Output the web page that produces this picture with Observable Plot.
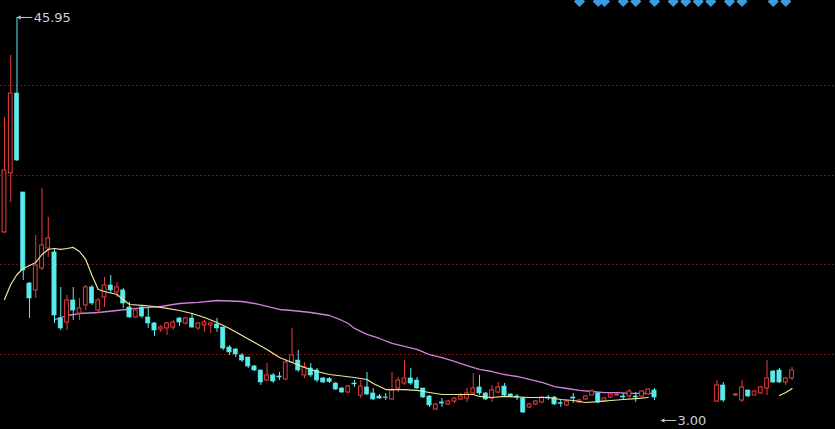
<!DOCTYPE html>
<html>
<head>
<meta charset="utf-8">
<script src="https://cdn.jsdelivr.net/npm/d3@7"></script>
<script src="https://cdn.jsdelivr.net/npm/@observablehq/plot@0.6"></script>
<style>
  html, body { margin: 0; padding: 0; background: #000; overflow: hidden; }
  #chart svg { display: block; }
</style>
</head>
<body>
<div id="chart"></div>
<script>
// ---- Candle positions (trading-day index) ----
const candleIdx = d3.range(105).concat([114, 115], d3.range(117, 127));

// ---- OHLC values ----
const open = [23.04,29.33,37.85,27.30,17.60,16.86,19.20,21.33,20.91,13.87,13.44,15.79,14.40,15.26,17.18,14.72,16.11,17.39,16.64,16.86,
15.04,13.98,15.04,13.98,13.34,12.70,12.81,12.91,13.87,13.34,13.87,12.81,13.13,13.13,13.23,12.91,10.78,10.57,9.93,9.71,
8.76,8.33,7.26,7.80,7.69,7.37,9.18,9.39,7.80,8.54,8.33,7.48,7.42,6.94,6.41,5.98,6.94,5.66,6.52,5.88,
5.56,5.45,5.24,6.41,6.94,7.48,7.26,6.41,5.56,4.17,4.92,4.71,5.02,5.24,5.34,5.88,6.52,5.88,5.34,5.98,
6.62,5.77,5.56,5.34,4.39,4.71,4.92,5.45,5.45,4.84,4.60,5.45,4.92,5.24,5.66,5.88,5.02,5.45,5.66,5.56,
5.56,5.56,5.56,5.77,6.20,
5.02,6.73,
5.66,5.13,6.20,5.66,5.88,6.41,8.22,8.33,7.05,7.48];
const high = [35.29,41.90,45.95,27.30,17.71,22.72,27.73,24.64,21.30,17.18,16.32,17.18,16.00,17.39,17.39,16.00,18.24,18.45,17.71,17.07,
15.58,14.94,15.26,15.04,13.44,13.13,13.44,13.66,13.98,13.98,14.40,13.44,13.66,13.44,13.87,12.91,10.99,10.67,10.14,9.71,
8.86,8.33,9.08,8.01,8.12,9.39,12.81,10.46,9.18,9.08,8.54,7.58,7.58,7.05,6.52,6.73,7.26,7.26,8.12,6.41,
5.77,5.88,8.12,7.58,9.39,8.54,7.58,6.41,5.66,4.81,5.34,5.13,5.45,5.88,6.41,8.01,7.80,5.98,6.73,7.05,
6.94,5.88,5.77,5.45,4.81,5.13,5.56,5.66,5.56,5.24,5.13,5.88,5.24,5.66,6.30,5.98,5.45,5.88,5.88,5.88,
6.30,5.98,6.20,6.41,6.41,
7.26,7.05,
5.88,7.26,6.20,6.20,6.62,9.39,8.33,8.54,7.58,8.65];
const low = [22.90,26.23,30.60,17.92,13.87,16.00,18.99,20.37,13.34,12.59,12.59,13.66,13.66,14.72,15.26,14.40,15.04,16.54,16.11,14.94,
13.87,13.87,13.87,12.81,11.95,12.38,12.06,12.59,13.02,13.13,12.81,12.59,12.38,12.27,12.38,10.46,9.93,9.71,9.18,8.54,
8.22,6.73,7.16,6.94,7.26,7.26,9.08,8.12,7.48,7.58,7.05,6.94,6.94,6.20,5.88,5.88,6.52,5.34,5.66,5.13,
5.24,5.13,5.13,5.98,6.73,6.73,6.30,5.34,4.39,4.07,4.39,4.60,4.81,5.13,4.92,5.66,5.66,5.13,4.92,5.88,
5.45,5.45,5.13,3.75,4.28,4.60,4.81,5.13,4.60,4.39,4.49,4.81,4.81,5.13,5.66,4.81,4.92,5.34,5.56,5.13,
5.34,4.92,5.45,5.66,5.13,
4.92,4.92,
5.56,4.92,5.45,5.66,5.77,5.66,6.94,6.94,6.73,7.26];
const close = [29.65,37.85,30.71,18.99,16.00,19.52,21.65,22.40,14.19,12.81,15.79,14.72,14.94,17.18,15.47,15.79,17.39,16.86,17.18,15.47,
13.98,14.72,14.08,13.34,12.59,12.91,13.34,13.44,13.44,13.87,12.91,13.34,13.44,13.34,12.81,10.67,10.25,10.04,9.39,8.76,
8.33,7.05,7.80,7.16,7.58,9.18,9.93,8.33,8.65,7.80,7.26,7.05,7.10,6.30,5.98,6.62,6.84,6.62,5.77,5.24,
5.34,5.40,6.20,7.26,7.48,6.94,6.41,5.45,4.60,4.71,4.81,5.02,5.34,5.56,5.88,6.41,5.88,5.24,6.20,6.52,
5.66,5.56,5.45,3.85,4.71,5.02,5.45,5.34,4.71,4.78,5.02,5.34,5.13,5.56,6.09,4.92,5.34,5.77,5.77,5.45,
6.09,5.45,6.09,6.30,5.45,
6.73,5.13,
5.77,6.52,5.56,6.09,6.52,7.48,7.05,7.05,7.48,8.33];

// ---- Short moving average (yellow) ----
const maFastIdx = [0,1,2,3,5,6,7,8,9,10,11,12,13,14,15,16,18,19,20,22,24,26,28,30,32,34,36,38,40,42,44,46,48,50,52,54,56,58,59,60,61,64,66,68,70,75,76,78,80,84,87,89,91,93,95,97,99,101,103,110,124,125,126];
const maFast = [15.90,17.49,18.56,19.20,19.84,20.69,21.23,21.33,21.23,21.33,21.44,21.01,20.16,18.45,16.96,16.75,16.43,15.90,15.36,15.26,15.15,14.94,14.72,14.40,13.98,13.44,12.81,12.06,11.31,10.57,9.71,9.18,8.65,8.22,7.90,7.74,7.58,7.37,6.94,6.62,6.30,6.30,6.20,5.98,5.77,5.77,5.56,5.45,5.56,5.45,5.45,5.24,5.13,4.92,5.02,5.13,5.24,5.34,5.45,null,5.66,5.98,6.41];

// ---- Long moving average (purple) ----
const maSlowIdx = [8,10,12,15,18,21,25,28,31,34,38,40,42,44,46,49,52,54,55,56,58,60,62,64,66,68,70,72,74,76,78,80,82,84,86,88,90,92,94,96,98,100,102,104];
const maSlow = [13.76,14.19,14.40,14.51,14.72,14.94,15.15,15.47,15.58,15.79,15.68,15.47,15.15,14.83,14.72,14.51,14.19,13.66,13.34,12.81,12.17,11.74,11.21,10.89,10.57,10.03,9.71,9.29,8.86,8.44,8.22,7.90,7.69,7.37,7.05,6.62,6.41,6.20,6.09,5.98,5.98,5.88,5.88,5.88];

// ---- Grid levels, signal markers, extreme labels ----
const gridLevels = [38.70, 29.11, 19.63, 10.03];
const signalIdx = [92, 95, 96, 99, 101, 104, 107, 109, 111, 113, 116, 118, 123, 125];
const extremeIdx = [2, 105];
const extremeVal = [45.95, 3.00];
const extremeLabel = ["45.95", "3.00"];

const RED = "#ec3b3b", CYAN = "#58ecec";
const candles = candleIdx.map((i, k) => ({i, o: open[k], h: high[k], l: low[k], c: close[k], up: close[k] > open[k]}));
const ups = candles.filter(d => d.up), downs = candles.filter(d => !d.up);
const fast = maFastIdx.map((i, k) => ({i, v: maFast[k]}));
const slow = maSlowIdx.map((i, k) => ({i, v: maSlow[k]}));
const extremes = extremeIdx.map((i, k) => ({i, v: extremeVal[k], label: extremeLabel[k]}));

const chart = Plot.plot({
  width: 835,
  height: 429,
  margin: 0,
  style: {background: "#000", fontFamily: "DejaVu Sans, sans-serif"},
  x: {type: "linear", domain: [-0.64, 132.96], axis: null},
  y: {domain: [2.04, 47.76], axis: null},
  marks: [
    Plot.ruleY(gridLevels, {stroke: "#8e1f1f", strokeWidth: 1, strokeDasharray: "1.5,2.5"}),
    Plot.line(slow, {x: "i", y: "v", stroke: "#d47ee0", strokeWidth: 1.3}),
    Plot.ruleX(candles, {x: "i", y1: "l", y2: "h", stroke: d => d.up ? RED : CYAN, strokeWidth: 1}),
    Plot.rect(downs, {x1: d => d.i - 0.34, x2: d => d.i + 0.34, y1: "o", y2: "c", fill: CYAN, stroke: CYAN, strokeWidth: 0.6}),
    Plot.rect(ups, {x1: d => d.i - 0.3, x2: d => d.i + 0.3, y1: "o", y2: "c", fill: "#000", stroke: RED, strokeWidth: 1}),
    Plot.line(fast, {x: "i", y: "v", stroke: "#ece6a0", strokeWidth: 1.2}),
    Plot.dot(signalIdx, {x: d => d, frameAnchor: "top", dy: 1, symbol: "diamond2", r: 5, fill: "#3a9de0"}),
    Plot.arrow(extremes, {x1: d => d.i + 2.4, x2: d => d.i + 0.1, y1: "v", y2: "v", stroke: "#c8c8c8", strokeWidth: 1, headLength: 5, headAngle: 50}),
    Plot.text(extremes, {x: d => d.i + 2.5, y: "v", text: "label", textAnchor: "start", fill: "#cfcfcf", fontSize: 13, dx: 1})
  ]
});
document.getElementById("chart").append(chart);
</script>
</body>
</html>
